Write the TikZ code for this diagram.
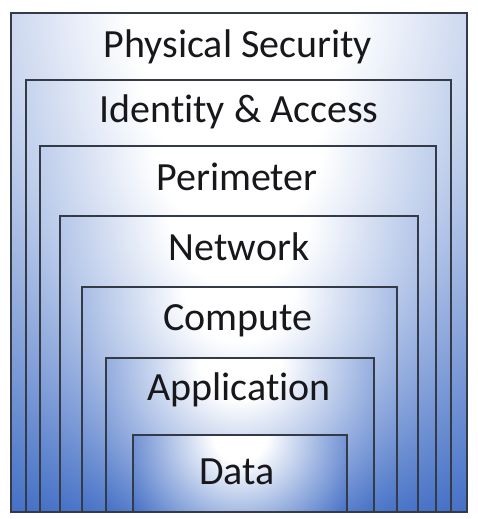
\documentclass[tikz,border=0pt]{standalone}
\usepackage{fontspec}
\setmainfont{Carlito}[Ligatures=NoCommon]
\definecolor{boxblue}{RGB}{68,112,198}
\definecolor{edgecol}{RGB}{52,58,70}
\definecolor{txtcol}{RGB}{24,24,28}
\pgfdeclareradialshading{glow}{\pgfpointorigin}{color(0bp)=(white); color(5bp)=(white); color(25bp)=(boxblue); color(50bp)=(boxblue)}
\tikzset{
  boxline/.style={draw=edgecol, line width=1.5pt},
  lbl/.style={font=\fontsize{40}{44}\selectfont, text=txtcol, anchor=base, inner sep=0pt}
}
% #1 left, #2 top, #3 right, #4 centre x, #5 radius (bottom at 512)
\newcommand\layerbox[5]{%
  \begin{scope}
    \clip (#1,#2) rectangle (#3,512);
    \fill[boxblue] (#1,#2) rectangle (#3,512);
    \shade[shading=glow] (#4pt,-#2pt) circle[radius=#5pt];
  \end{scope}
  \draw[boxline] (#1,#2) rectangle (#3,512);
}
\begin{document}
\begin{tikzpicture}[x=1pt,y=-1pt]
\useasboundingbox (0,0) rectangle (478,519);
\layerbox{11}{13}{467}{239}{548.6}
\layerbox{26}{80}{451}{238.5}{481.4}
\layerbox{40}{146}{436}{238}{416.1}
\layerbox{60}{216}{418}{239}{345.9}
\layerbox{82}{287}{397}{239.5}{274.6}
\layerbox{106}{358}{374}{240}{204.1}
\layerbox{133}{435}{347}{240}{131.8}
\node[lbl] (phys) at (238,58) {Physical Security};
\node[lbl] (iden) at (239,122) {Identity \& Access};
\node[lbl] (peri) at (237,190.5) {Perimeter};
\node[lbl] (netw) at (239,260) {Network};
\node[lbl] (comp) at (238,330) {Compute};
\node[lbl] (appl) at (239,400) {Application};
\node[lbl] (data) at (237,484) {Data};
\end{tikzpicture}
\end{document}
